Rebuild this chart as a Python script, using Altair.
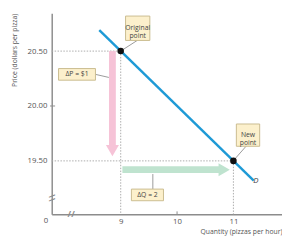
import altair as alt
import pandas as pd

# ---- data ----
quantity = [9, 11]
price = [20.50, 19.50]
point_names = ["Original\npoint", "New\npoint"]

demand_q = [8.62, 11.36]
demand_p = [20.69, 19.32]

x_ticks = [9, 10, 11]
y_ticks = [19.50, 20.00, 20.50]

# annotation anchors (data units)
box_text = ["Original\npoint", "ΔP = $1", "ΔQ = 2", "New\npoint"]
box_q1 = [9.086, 7.897, 9.19, 11.052]
box_q2 = [9.517, 8.552, 9.759, 11.466]
box_p1 = [20.819, 20.341, 19.243, 19.836]
box_p2 = [20.597, 20.235, 19.137, 19.633]

lead_q1 = [9.293, 8.552, 9.57, 11.224]
lead_q2 = [9.03, 8.79, 9.57, 11.03]
lead_p1 = [20.597, 20.288, 19.243, 19.633]
lead_p2 = [20.51, 20.26, 19.38, 19.52]

XDOM = [7.776, 11.862]
YDOM = [19.013, 20.845]

FONT = "Open Sans"
GREY = "#555555"

xs = alt.Scale(domain=XDOM, nice=False, zero=False)
ys = alt.Scale(domain=YDOM, nice=False, zero=False)

x_axis = alt.Axis(values=x_ticks, title="Quantity (pizzas per hour)", titleAnchor="end",
                  titleFontSize=7, titleFontWeight="normal", titleColor=GREY, titleFont=FONT,
                  titlePadding=3, labelFontSize=8, labelColor=GREY, labelFont=FONT,
                  ticks=False, grid=False, domainColor="#8c8c8c", domainWidth=1.5, labelPadding=3)
y_axis = alt.Axis(values=y_ticks, format=".2f", title="Price (dollars per pizza)", titleAnchor="end",
                  titleFontSize=7, titleFontWeight="normal", titleColor=GREY, titleFont=FONT,
                  titlePadding=10, labelFontSize=8, labelColor=GREY, labelFont=FONT,
                  ticks=False, grid=False, domainColor="#8c8c8c", domainWidth=1.5, labelPadding=5)


def X(f):
    return alt.X(f, type="quantitative", scale=xs, axis=x_axis)


def Y(f):
    return alt.Y(f, type="quantitative", scale=ys, axis=y_axis)


# dotted guide lines
guides = pd.DataFrame({
    "q": [XDOM[0], XDOM[0], quantity[0], quantity[1]],
    "q2": [quantity[0], quantity[1], quantity[0], quantity[1]],
    "p": [price[0], price[1], price[0], price[1]],
    "p2": [price[0], price[1], YDOM[0], YDOM[0]],
})
guide_layer = alt.Chart(guides).mark_rule(color="#aaaaaa", strokeDash=[1.5, 1.5], strokeWidth=1).encode(
    x=X("q"), x2="q2", y=Y("p"), y2="p2")

# pink vertical arrow (ΔP)
pink_shaft = pd.DataFrame({"q": [8.853], "p": [20.5], "p2": [19.62]})
pink_head = pd.DataFrame({"q": [8.853], "p": [19.593]})
pink1 = alt.Chart(pink_shaft).mark_rule(color="#f6c3d7", strokeWidth=7).encode(x=X("q"), y=Y("p"), y2="p2")
pink2 = alt.Chart(pink_head).mark_point(shape="triangle-down", filled=True, size=180, color="#f6c3d7",
                                        opacity=1).encode(x=X("q"), y=Y("p"))

# green horizontal arrow (ΔQ)
green_shaft = pd.DataFrame({"q": [9.03], "q2": [10.8], "p": [19.42]})
green_head = pd.DataFrame({"q": [10.836], "p": [19.42]})
green1 = alt.Chart(green_shaft).mark_rule(color="#bfe3cf", strokeWidth=7).encode(x=X("q"), x2="q2", y=Y("p"))
green2 = alt.Chart(green_head).mark_point(shape="triangle-right", filled=True, size=180, color="#bfe3cf",
                                          opacity=1).encode(x=X("q"), y=Y("p"))

# demand curve
dem = pd.DataFrame({"q": demand_q, "p": demand_p})
demand = alt.Chart(dem).mark_line(color="#1e9ad6", strokeWidth=2.5).encode(x=X("q"), y=Y("p"))

# leader lines
leads = pd.DataFrame({"q": lead_q1, "q2": lead_q2, "p": lead_p1, "p2": lead_p2})
lead_layer = alt.Chart(leads).mark_rule(color="#999999", strokeWidth=1).encode(
    x=X("q"), x2="q2", y=Y("p"), y2="p2")

# label boxes
boxes = pd.DataFrame({"q": box_q1, "q2": box_q2, "p": box_p1, "p2": box_p2, "t": box_text,
                      "qm": [(a + b) / 2 for a, b in zip(box_q1, box_q2)],
                      "pm": [(a + b) / 2 for a, b in zip(box_p1, box_p2)]})
box_layer = alt.Chart(boxes).mark_rect(fill="#fcf0cc", stroke="#c9bb8e", strokeWidth=1).encode(
    x=X("q"), x2="q2", y=Y("p"), y2="p2")
box_txt = alt.Chart(boxes).mark_text(font=FONT, fontSize=7, color="#444444", lineBreak="\n",
                                     lineHeight=8.5, align="center", baseline="middle").encode(
    x=X("qm"), y=Y("pm"), text="t")

# points
pts = pd.DataFrame({"q": quantity, "p": price, "name": point_names})
points = alt.Chart(pts).mark_point(filled=True, shape="circle", size=45, color="#111111", opacity=1).encode(
    x=X("q"), y=Y("p"))

# misc text: D, 0, axis breaks
misc = pd.DataFrame({"q": [11.40], "p": [19.315], "t": ["D"]})
d_label = alt.Chart(misc).mark_text(font=FONT, fontSize=8, fontStyle="italic", color="#444444").encode(
    x=X("q"), y=Y("p"), text="t")

zero = pd.DataFrame({"q": [7.672], "p": [18.95], "t": ["0"]})
zero_label = alt.Chart(zero).mark_text(font=FONT, fontSize=8, color=GREY).encode(
    x=X("q"), y=Y("p"), text="t")

xbreak = pd.DataFrame({"q": [8.121], "p": [YDOM[0]], "t": ["//"]})
xbreak_l = alt.Chart(xbreak).mark_text(font=FONT, fontSize=9, color="#8c8c8c", fontWeight="bold").encode(
    x=X("q"), y=Y("p"), text="t")
ybreak = pd.DataFrame({"q": [XDOM[0]], "p": [19.163], "t": ["\\\\"]})
ybreak_l = alt.Chart(ybreak).mark_text(font=FONT, fontSize=9, color="#8c8c8c", fontWeight="bold",
                                       angle=90).encode(x=X("q"), y=Y("p"), text="t")

# small axis ticks (10 on x, 20.00 on y)
tx = pd.DataFrame({"q": [10], "p": [YDOM[0]], "p2": [19.04]})
tick_x = alt.Chart(tx).mark_rule(color="#8c8c8c", strokeWidth=1).encode(x=X("q"), y=Y("p"), y2="p2")
ty = pd.DataFrame({"q": [XDOM[0] - 0.03], "q2": [XDOM[0] + 0.06], "p": [20.0]})
tick_y = alt.Chart(ty).mark_rule(color="#8c8c8c", strokeWidth=1).encode(x=X("q"), x2="q2", y=Y("p"))

chart = alt.layer(
    guide_layer, pink1, pink2, green1, green2, demand, lead_layer, box_layer, box_txt,
    points, d_label, zero_label, xbreak_l, ybreak_l, tick_x, tick_y
).properties(
    width=237, height=207,
    autosize=alt.AutoSizeParams(type="none"),
    padding={"left": 45, "top": 2, "right": 0, "bottom": 22},
).configure_view(stroke=None)

chart.save("out.html", embed_options={"renderer": "svg", "actions": False})
